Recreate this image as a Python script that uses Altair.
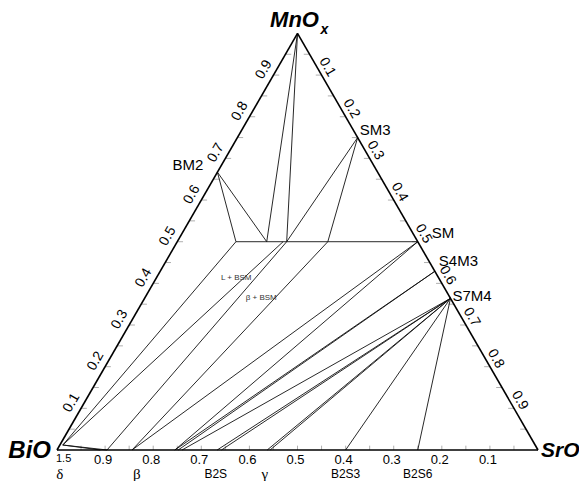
import math
import altair as alt
import pandas as pd

S3 = math.sqrt(3) / 2

# ---------------- data ----------------
# phase points: SrO and MnOx mole fractions (BiO = 1 - Sr - Mn)
pt_name = ["MnOx", "BM2", "SM3", "SM", "S4M3", "S7M4",
           "P1", "P2", "P3", "P3b", "P4",
           "L", "d1", "b1", "b2", "c1", "c2", "c3",
           "B2S", "B2Sb", "g1", "g2", "B2S3", "B2S6"]
pt_sr = [0.0, 0.0, 0.25, 0.5, 0.571, 0.636,
         0.122, 0.186, 0.2275, 0.22, 0.313,
         0.006, 0.09, 0.104, 0.156, 0.245, 0.252, 0.26,
         0.333, 0.342, 0.437, 0.443, 0.6, 0.75]
pt_mn = [1.0, 0.667, 0.75, 0.5, 0.429, 0.364,
         0.5, 0.5, 0.5, 0.5, 0.5,
         0.012, 0.0, 0.0, 0.0, 0.0, 0.0, 0.0,
         0.0, 0.0, 0.0, 0.0, 0.0, 0.0]

tie_a = ["BM2", "BM2", "MnOx", "MnOx", "P3", "P4", "P1",
         "L", "L", "b1", "b2", "b2", "c1", "c1", "c2", "c3",
         "B2S", "B2Sb", "g1", "g2", "B2S3", "B2S6", "L", "L"]
tie_b = ["P1", "P2", "P2", "P3", "SM3", "SM3", "SM",
         "P1", "P3b", "P3", "P4", "SM", "SM", "S4M3", "S4M3", "S7M4",
         "S7M4", "S7M4", "S7M4", "S7M4", "S7M4", "S7M4", "b1", "d1"]

edge_vals = [0.1, 0.2, 0.3, 0.4, 0.5, 0.6, 0.7, 0.8, 0.9]
edge_labels = ["0.1", "0.2", "0.3", "0.4", "0.5", "0.6", "0.7", "0.8", "0.9"]

base_compound_lbl = ["B2S", "B2S3", "B2S6"]
base_compound_sr = [0.33, 0.6, 0.75]
greek_lbl = ["δ", "β", "γ"]
greek_sr = [0.006, 0.166, 0.432]

region_lbl = ["L + BSM", "β + BSM"]
region_sr = [0.166, 0.242]
region_mn = [0.413, 0.365]

# ---------------- helpers ----------------
def cart(sr, mn):
    return sr + mn / 2.0, mn * S3

pts = {n: cart(s, m) for n, s, m in zip(pt_name, pt_sr, pt_mn)}

XD = [-0.10187, 1.0852]
YD = [-0.06445, 0.9189]
xs = alt.Scale(domain=XD, nice=False, zero=False)
ys = alt.Scale(domain=YD, nice=False, zero=False)
FONT = "Liberation Sans"

def rules(df, color="black", width=1.0):
    return alt.Chart(df).mark_rule(color=color, strokeWidth=width).encode(
        x=alt.X("x:Q", scale=xs, axis=None),
        y=alt.Y("y:Q", scale=ys, axis=None),
        x2="x2:Q", y2="y2:Q")

def texts(df, size, angle=0, align="center", baseline="middle", dx=0, dy=0,
          font=FONT, weight="normal", style="normal", color="black"):
    kw = dict(fontSize=size, align=align, baseline=baseline, dx=dx, dy=dy,
              font=font, fontWeight=weight, fontStyle=style, color=color)
    if angle:
        kw["angle"] = angle
    return alt.Chart(df).mark_text(**kw).encode(
        x=alt.X("x:Q", scale=xs, axis=None),
        y=alt.Y("y:Q", scale=ys, axis=None),
        text="t:N")

# triangle edges
A = cart(0, 0); B = cart(1, 0); C = cart(0, 1)
edges = pd.DataFrame({"x": [A[0], B[0], C[0]], "y": [A[1], B[1], C[1]],
                      "x2": [B[0], C[0], A[0]], "y2": [B[1], C[1], A[1]]})

# ticks every 0.05
tk = []
L = 0.012
for k in range(1, 20):
    v = k * 0.05
    lx, ly = cart(0, v)
    tk.append((lx, ly, lx + L, ly))
    rx, ry = cart(v, 1 - v)
    tk.append((rx, ry, rx - L, ry))
    bx, by = cart(v, 0)
    tk.append((bx, by, bx, by + 0.009))
ticks = pd.DataFrame(tk, columns=["x", "y", "x2", "y2"])

# tie lines
tl = []
for a, b in zip(tie_a, tie_b):
    xa, ya = pts[a]; xb, yb = pts[b]
    tl.append((xa, ya, xb, yb))
ties = pd.DataFrame(tl, columns=["x", "y", "x2", "y2"])

# tick labels
left_df = pd.DataFrame({"x": [cart(0, v)[0] for v in edge_vals],
                        "y": [cart(0, v)[1] for v in edge_vals], "t": edge_labels})
right_df = pd.DataFrame({"x": [cart(v, 1 - v)[0] for v in edge_vals],
                         "y": [cart(v, 1 - v)[1] for v in edge_vals], "t": edge_labels})
base_df = pd.DataFrame({"x": [cart(1 - v, 0)[0] for v in edge_vals],
                        "y": [0.0] * 9, "t": edge_labels})

bc_df = pd.DataFrame({"x": base_compound_sr, "y": [0.0] * 3, "t": base_compound_lbl})
gr_df = pd.DataFrame({"x": greek_sr, "y": [0.0] * 3, "t": greek_lbl})
rg_df = pd.DataFrame({"x": [cart(s, m)[0] for s, m in zip(region_sr, region_mn)],
                      "y": [cart(s, m)[1] for s, m in zip(region_sr, region_mn)],
                      "t": region_lbl})

def one(name, label):
    x, y = pts[name]
    return pd.DataFrame({"x": [x], "y": [y], "t": [label]})

layers = [
    rules(ticks, color="#9a9a9a", width=0.8),
    rules(ties, color="#111111", width=0.9),
    rules(edges, color="black", width=1.6),
    texts(left_df, 14, angle=300, dy=-11),
    texts(right_df, 14, angle=60, dy=-9, dx=-4),
    texts(base_df, 13, dy=10, dx=-2),
    texts(bc_df, 12, dy=24),
    texts(gr_df, 15, dy=24, font="Liberation Serif"),
    texts(rg_df, 8, color="#333333"),
    texts(one("BM2", "BM2"), 15, align="right", dx=-14, dy=-7),
    texts(one("SM3", "SM3"), 15, align="left", dx=2, dy=-8),
    texts(one("SM", "SM"), 15, align="left", dx=14, dy=-9),
    texts(one("S4M3", "S4M3"), 15, align="left", dx=4, dy=-10),
    texts(one("S7M4", "S7M4"), 15, align="left", dx=2, dy=-2),
    texts(pd.DataFrame({"x": [A[0]], "y": [A[1]], "t": ["BiO"]}), 24,
          align="right", dx=-6, dy=1, weight="bold", style="italic"),
    texts(pd.DataFrame({"x": [A[0]], "y": [A[1]], "t": ["1.5"]}), 11,
          align="left", dx=-1, dy=9),
    texts(pd.DataFrame({"x": [B[0]], "y": [B[1]], "t": ["SrO"]}), 21,
          align="left", dx=3, dy=1, weight="bold", style="italic"),
    texts(pd.DataFrame({"x": [C[0]], "y": [C[1]], "t": ["MnO"]}), 22,
          dx=-3, dy=-13, weight="bold", style="italic"),
    texts(pd.DataFrame({"x": [C[0]], "y": [C[1]], "t": ["x"]}), 14,
          align="left", dx=23, dy=-3, weight="bold", style="italic"),
]

chart = alt.layer(*layers).properties(
    width=571, height=473, padding=0,
    autosize=alt.AutoSizeParams(type="none"),
).configure_view(stroke=None)

chart.save("out.html", embed_options={"renderer": "svg", "actions": False})
